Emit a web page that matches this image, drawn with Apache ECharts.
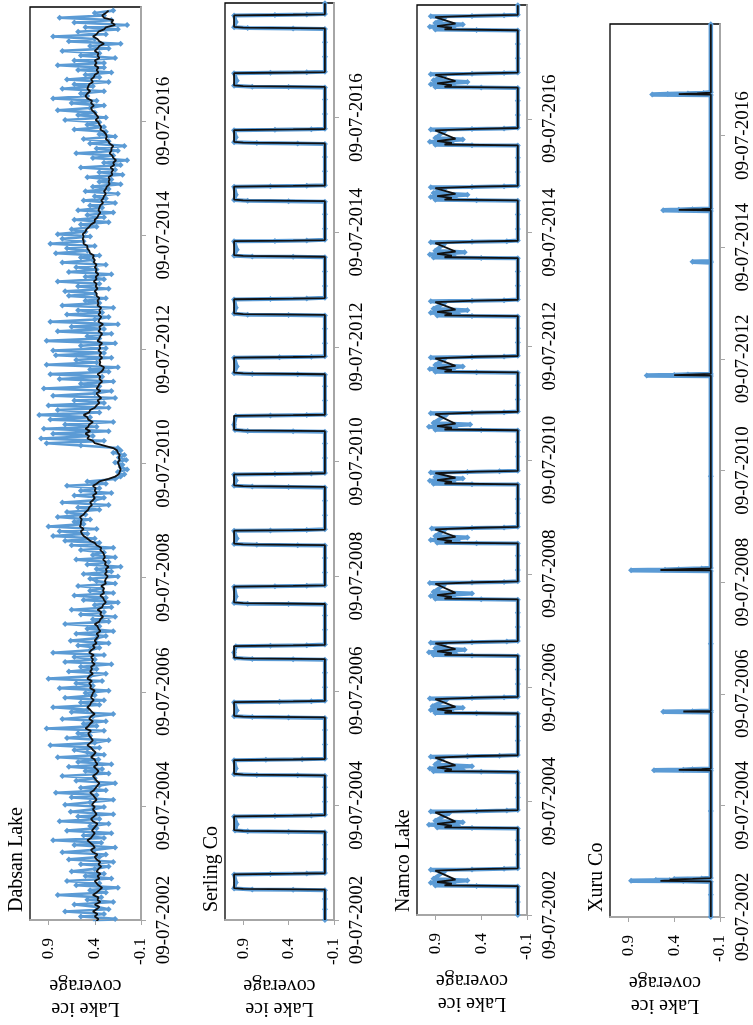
<!DOCTYPE html>
<html><head><meta charset="utf-8">
<script src="https://cdn.jsdelivr.net/npm/echarts@6/dist/echarts.min.js"></script>
<style>html,body{margin:0;padding:0;background:#fff}#c{width:753px;height:1025px}</style>
</head><body><div id="c"></div>
<script>
// ---------- tick labels / categories ----------
const tickLabels = ['09-07-2002','09-07-2004','09-07-2006','09-07-2008','09-07-2010','09-07-2012','09-07-2014','09-07-2016'];
const lakeNames = ['Dabsan Lake','Serling Co','Namco Lake','Xuru Co'];
const axisStart = '2002-07-09', axisEnd = '2018-07-09';

// ---------- Dabsan Lake: two readings per month (1st, 16th) from Jul 2002, one row per Jul-Jun year ----------
const dabsanFirstMonth = '2002-07';
const dabsanRaw = [
0.42,0.18,0.55,0.30,0.72,0.25,0.38,0.62,0.20,0.48,0.33,0.80,0.28,0.45,0.15,0.60,0.35,0.70,0.22,0.50,0.30,0.65,0.40,0.25,
0.55,0.20,0.68,0.35,0.28,0.75,0.40,0.18,0.62,0.33,0.85,0.30,0.52,0.22,0.70,0.38,0.45,0.25,0.78,0.35,0.58,0.20,0.66,0.42,
0.30,0.72,0.45,0.20,0.65,0.38,0.82,0.28,0.55,0.35,0.18,0.60,0.40,0.75,0.25,0.50,0.32,0.68,0.22,0.58,0.36,0.80,0.30,0.48,
0.62,0.35,0.88,0.40,0.25,0.70,0.45,0.58,0.30,0.92,0.38,0.52,0.28,0.75,0.42,0.20,0.65,0.48,0.85,0.35,0.55,0.30,0.72,0.40,
0.50,0.25,0.78,0.42,0.60,0.32,0.90,0.45,0.28,0.68,0.38,0.55,0.22,0.72,0.40,0.62,0.30,0.85,0.45,0.35,0.58,0.25,0.66,0.38,
0.28,0.60,0.20,0.48,0.35,0.72,0.25,0.42,0.18,0.55,0.30,0.65,0.22,0.40,0.15,0.52,0.28,0.62,0.20,0.45,0.32,0.58,0.18,0.38,
0.45,0.15,0.52,0.22,0.38,0.12,0.48,0.25,0.60,0.18,0.42,0.30,0.55,0.20,0.65,0.35,0.72,0.40,0.85,0.48,0.78,0.38,0.90,0.52,
0.62,0.45,0.80,0.50,0.70,0.35,0.58,0.25,0.75,0.40,0.30,0.62,0.22,0.55,0.35,0.70,0.28,0.48,0.18,0.12,0.08,0.15,0.05,0.12,
0.10,0.18,0.06,0.14,0.08,0.20,0.12,0.15,0.55,0.92,0.30,0.98,0.42,0.85,0.25,0.95,0.38,0.72,0.20,0.88,0.45,1.00,0.35,0.80,
0.25,0.90,0.30,0.62,0.18,0.85,0.40,0.22,0.95,0.35,0.55,0.20,0.78,0.32,0.88,0.25,0.45,0.15,0.92,0.38,0.60,0.22,0.82,0.30,
0.85,0.28,0.55,0.18,0.92,0.35,0.48,0.22,0.80,0.30,0.65,0.15,0.88,0.40,0.25,0.70,0.32,0.58,0.20,0.75,0.35,0.50,0.28,0.68,
0.40,0.72,0.25,0.58,0.35,0.80,0.30,0.50,0.22,0.68,0.38,0.60,0.28,0.75,0.42,0.55,0.35,0.82,0.48,0.70,0.40,0.88,0.52,0.75,
0.45,0.80,0.50,0.65,0.38,0.55,0.25,0.62,0.30,0.48,0.20,0.58,0.32,0.45,0.18,0.52,0.28,0.40,0.15,0.50,0.25,0.42,0.12,0.35,
0.22,0.48,0.10,0.35,0.18,0.55,0.12,0.30,0.05,0.42,0.20,0.60,0.15,0.38,0.08,0.45,0.25,0.52,0.18,0.35,0.28,0.62,0.30,0.48,
0.35,0.72,0.28,0.58,0.40,0.80,0.45,0.30,0.65,0.38,0.85,0.48,0.55,0.30,0.75,0.42,0.62,0.25,0.70,0.35,0.50,0.22,0.58,0.30,
0.80,0.30,0.62,0.18,0.55,0.35,0.75,0.25,0.45,0.12,0.68,0.40,0.85,0.28,0.58,0.15,0.50,0.05,0.62,0.22,0.78,0.30,0.40,0.20];
const dabsanSmooth = [
0.38,0.36,0.40,0.37,0.42,0.38,0.35,0.40,0.34,0.37,0.36,0.42,0.38,0.35,0.32,0.36,0.38,0.40,0.35,0.37,0.34,0.38,0.36,0.33,
0.36,0.34,0.38,0.40,0.37,0.42,0.44,0.40,0.42,0.45,0.48,0.44,0.42,0.40,0.43,0.41,0.39,0.37,0.42,0.44,0.41,0.38,0.40,0.42,
0.40,0.43,0.41,0.38,0.40,0.42,0.45,0.41,0.39,0.37,0.35,0.38,0.40,0.42,0.38,0.36,0.38,0.41,0.37,0.39,0.40,0.44,0.41,0.39,
0.42,0.44,0.48,0.45,0.42,0.44,0.46,0.47,0.44,0.50,0.47,0.45,0.42,0.46,0.44,0.40,0.43,0.45,0.48,0.45,0.44,0.41,0.44,0.43,
0.42,0.40,0.45,0.44,0.46,0.43,0.48,0.46,0.42,0.45,0.43,0.44,0.40,0.43,0.42,0.44,0.41,0.46,0.44,0.40,0.42,0.38,0.40,0.38,
0.36,0.38,0.34,0.36,0.37,0.40,0.35,0.34,0.31,0.34,0.33,0.37,0.32,0.31,0.28,0.30,0.31,0.34,0.30,0.31,0.30,0.33,0.28,0.29,
0.28,0.26,0.29,0.27,0.28,0.25,0.29,0.28,0.31,0.29,0.30,0.31,0.34,0.33,0.38,0.40,0.45,0.48,0.52,0.54,0.55,0.52,0.56,0.55,
0.55,0.54,0.56,0.52,0.50,0.47,0.46,0.43,0.45,0.42,0.40,0.42,0.38,0.40,0.39,0.42,0.38,0.35,0.25,0.18,0.14,0.13,0.12,0.13,
0.14,0.15,0.13,0.14,0.13,0.15,0.16,0.20,0.30,0.40,0.42,0.48,0.46,0.50,0.45,0.50,0.47,0.46,0.42,0.47,0.48,0.52,0.46,0.45,
0.40,0.38,0.35,0.37,0.33,0.36,0.38,0.34,0.38,0.36,0.35,0.32,0.35,0.34,0.37,0.33,0.31,0.30,0.35,0.34,0.35,0.32,0.35,0.33,
0.36,0.34,0.35,0.32,0.37,0.35,0.34,0.32,0.36,0.34,0.35,0.31,0.36,0.35,0.33,0.36,0.34,0.35,0.33,0.37,0.36,0.37,0.35,0.38,
0.38,0.40,0.37,0.39,0.38,0.41,0.38,0.39,0.36,0.39,0.38,0.40,0.38,0.41,0.40,0.42,0.41,0.45,0.46,0.48,0.48,0.52,0.52,0.53,
0.52,0.53,0.50,0.49,0.46,0.44,0.40,0.40,0.37,0.36,0.34,0.36,0.35,0.34,0.31,0.33,0.31,0.30,0.28,0.30,0.28,0.27,0.24,0.25,
0.24,0.25,0.21,0.22,0.20,0.23,0.19,0.20,0.17,0.20,0.21,0.24,0.22,0.22,0.20,0.24,0.25,0.28,0.27,0.28,0.30,0.34,0.33,0.35,
0.36,0.39,0.36,0.38,0.40,0.43,0.44,0.41,0.44,0.43,0.48,0.50,0.48,0.45,0.48,0.47,0.46,0.42,0.44,0.41,0.40,0.36,0.38,0.36,
0.40,0.38,0.40,0.35,0.37,0.36,0.40,0.37,0.35,0.30,0.35,0.37,0.42,0.38,0.36,0.30,0.28,0.18,0.22,0.20,0.30,0.32,0.28,0.25];

// ---------- Serling Co ----------
const serlingRaw = [
['2002-07-09',0],['2002-09-15',0],['2002-11-20',0],
['2003-01-15',0],['2003-01-18',0.35],['2003-01-20',0.8],['2003-01-25',1.0],['2003-03-05',0.98],['2003-04-25',1.0],['2003-04-28',0.6],['2003-05-01',0.2],['2003-05-05',0],['2003-08-01',0],['2003-11-01',0],
['2004-01-20',0],['2004-01-23',0.4],['2004-01-25',0.85],['2004-01-30',0.99],['2004-03-10',0.97],['2004-04-29',1.0],['2004-05-02',0.55],['2004-05-05',0.15],['2004-05-09',0],['2004-08-01',0],['2004-11-01',0],
['2005-01-13',0],['2005-01-16',0.3],['2005-01-18',0.75],['2005-01-23',1.0],['2005-03-01',0.98],['2005-04-22',1.0],['2005-04-25',0.65],['2005-04-28',0.25],['2005-05-02',0],['2005-08-01',0],['2005-11-01',0],
['2006-01-17',0],['2006-01-20',0.4],['2006-01-22',0.8],['2006-01-27',1.0],['2006-03-05',0.97],['2006-04-27',1.0],['2006-04-30',0.5],['2006-05-03',0.15],['2006-05-07',0],['2006-08-01',0],['2006-11-01',0],
['2007-01-23',0],['2007-01-26',0.35],['2007-01-28',0.8],['2007-02-02',0.99],['2007-03-10',1.0],['2007-04-19',0.98],['2007-04-22',0.6],['2007-04-25',0.2],['2007-04-29',0],['2007-08-01',0],['2007-11-01',0],
['2008-01-10',0],['2008-01-13',0.4],['2008-01-15',0.85],['2008-01-20',1.0],['2008-03-01',0.98],['2008-05-02',1.0],['2008-05-05',0.55],['2008-05-08',0.2],['2008-05-12',0],['2008-08-01',0],['2008-11-01',0],
['2009-01-19',0],['2009-01-22',0.3],['2009-01-24',0.75],['2009-01-29',1.0],['2009-03-05',0.97],['2009-04-23',1.0],['2009-04-26',0.6],['2009-04-29',0.2],['2009-05-03',0],['2009-08-01',0],['2009-11-01',0],
['2010-01-25',0],['2010-01-28',0.4],['2010-01-30',0.8],['2010-02-04',1.0],['2010-03-10',0.98],['2010-04-17',1.0],['2010-04-20',0.55],['2010-04-23',0.15],['2010-04-27',0],['2010-08-01',0],['2010-11-01',0],
['2011-01-15',0],['2011-01-18',0.35],['2011-01-20',0.85],['2011-01-25',0.99],['2011-03-01',1.0],['2011-04-25',0.98],['2011-04-28',0.6],['2011-05-01',0.2],['2011-05-05',0],['2011-08-01',0],['2011-11-01',0],
['2012-01-13',0],['2012-01-16',0.3],['2012-01-18',0.8],['2012-01-23',1.0],['2012-03-05',0.97],['2012-04-30',1.0],['2012-05-03',0.5],['2012-05-06',0.15],['2012-05-10',0],['2012-08-01',0],['2012-11-01',0],
['2013-01-25',0],['2013-01-28',0.4],['2013-01-30',0.85],['2013-02-04',1.0],['2013-03-15',0.98],['2013-05-07',1.0],['2013-05-10',0.6],['2013-05-13',0.2],['2013-05-17',0],['2013-08-01',0],['2013-11-01',0],
['2014-01-31',0],['2014-02-03',0.35],['2014-02-05',0.8],['2014-02-10',1.0],['2014-03-20',0.97],['2014-05-12',1.0],['2014-05-15',0.55],['2014-05-18',0.2],['2014-05-22',0],['2014-08-01',0],['2014-11-01',0],
['2015-01-20',0],['2015-01-23',0.4],['2015-01-25',0.85],['2015-01-30',1.0],['2015-03-05',0.98],['2015-04-25',1.0],['2015-04-28',0.6],['2015-05-01',0.2],['2015-05-05',0],['2015-08-01',0],['2015-11-01',0],
['2016-01-23',0],['2016-01-26',0.3],['2016-01-28',0.75],['2016-02-02',1.0],['2016-03-05',0.98],['2016-04-19',1.0],['2016-04-22',0.55],['2016-04-25',0.15],['2016-04-29',0],['2016-08-01',0],['2016-11-01',0],
['2017-01-17',0],['2017-01-20',0.4],['2017-01-22',0.8],['2017-01-27',1.0],['2017-03-01',0.97],['2017-04-17',1.0],['2017-04-20',0.6],['2017-04-23',0.2],['2017-04-27',0],['2017-08-01',0],['2017-11-01',0],
['2018-01-25',0],['2018-01-28',0.35],['2018-01-30',0.85],['2018-02-04',1.0],['2018-03-10',0.98],['2018-04-20',1.0],['2018-04-23',0.55],['2018-04-26',0.2],['2018-04-30',0],['2018-07-08',0]];
const serlingSmooth = [
['2002-07-09',0],
['2003-01-18',0],['2003-01-23',0.9],['2003-01-28',1.0],['2003-04-26',1.0],['2003-04-30',0.35],['2003-05-03',0],
['2004-01-23',0],['2004-01-28',0.9],['2004-02-02',1.0],['2004-04-30',1.0],['2004-05-04',0.35],['2004-05-07',0],
['2005-01-16',0],['2005-01-21',0.9],['2005-01-26',1.0],['2005-04-23',1.0],['2005-04-27',0.35],['2005-04-30',0],
['2006-01-20',0],['2006-01-25',0.9],['2006-01-30',1.0],['2006-04-28',1.0],['2006-05-02',0.35],['2006-05-05',0],
['2007-01-26',0],['2007-01-31',0.9],['2007-02-05',1.0],['2007-04-20',1.0],['2007-04-24',0.35],['2007-04-27',0],
['2008-01-13',0],['2008-01-18',0.9],['2008-01-23',1.0],['2008-05-03',1.0],['2008-05-07',0.35],['2008-05-10',0],
['2009-01-22',0],['2009-01-27',0.9],['2009-02-01',1.0],['2009-04-24',1.0],['2009-04-28',0.35],['2009-05-01',0],
['2010-01-28',0],['2010-02-02',0.9],['2010-02-07',1.0],['2010-04-18',1.0],['2010-04-22',0.35],['2010-04-25',0],
['2011-01-18',0],['2011-01-23',0.9],['2011-01-28',1.0],['2011-04-26',1.0],['2011-04-30',0.35],['2011-05-03',0],
['2012-01-16',0],['2012-01-21',0.9],['2012-01-26',1.0],['2012-05-01',1.0],['2012-05-05',0.35],['2012-05-08',0],
['2013-01-28',0],['2013-02-02',0.9],['2013-02-07',1.0],['2013-05-08',1.0],['2013-05-12',0.35],['2013-05-15',0],
['2014-02-03',0],['2014-02-08',0.9],['2014-02-13',1.0],['2014-05-13',1.0],['2014-05-17',0.35],['2014-05-20',0],
['2015-01-23',0],['2015-01-28',0.9],['2015-02-02',1.0],['2015-04-26',1.0],['2015-04-30',0.35],['2015-05-03',0],
['2016-01-26',0],['2016-01-31',0.9],['2016-02-05',1.0],['2016-04-20',1.0],['2016-04-24',0.35],['2016-04-27',0],
['2017-01-20',0],['2017-01-25',0.9],['2017-01-30',1.0],['2017-04-18',1.0],['2017-04-22',0.35],['2017-04-25',0],
['2018-01-28',0],['2018-02-02',0.9],['2018-02-07',1.0],['2018-04-21',1.0],['2018-04-25',0.35],['2018-04-28',0],['2018-07-08',0]];

// ---------- Namco Lake ----------
const namcoRaw = [
['2002-07-09',0],['2002-10-01',0],
['2003-01-08',0],['2003-01-11',0.45],['2003-01-14',0.9],['2003-01-24',0.7],['2003-02-01',0.95],['2003-02-16',0.55],['2003-02-26',0.92],['2003-04-15',0.8],['2003-04-25',0.95],['2003-04-28',0.5],['2003-05-02',0.15],['2003-05-06',0],['2003-08-01',0],['2003-11-01',0],
['2004-01-16',0],['2004-01-19',0.5],['2004-01-22',0.88],['2004-02-01',0.65],['2004-02-09',0.97],['2004-02-24',0.6],['2004-03-05',0.9],['2004-04-23',0.75],['2004-05-03',0.95],['2004-05-06',0.45],['2004-05-10',0.12],['2004-05-14',0],['2004-08-01',0],['2004-11-01',0],
['2005-01-11',0],['2005-01-14',0.4],['2005-01-17',0.92],['2005-01-27',0.6],['2005-02-04',0.96],['2005-02-19',0.5],['2005-03-01',0.9],['2005-04-10',0.82],['2005-04-20',0.95],['2005-04-23',0.55],['2005-04-27',0.2],['2005-05-01',0],['2005-08-01',0],['2005-11-01',0],
['2006-01-21',0],['2006-01-24',0.45],['2006-01-27',0.9],['2006-02-06',0.72],['2006-02-14',0.95],['2006-03-01',0.6],['2006-03-11',0.93],['2006-04-20',0.78],['2006-04-30',0.96],['2006-05-03',0.5],['2006-05-07',0.15],['2006-05-11',0],['2006-08-01',0],['2006-11-01',0],
['2007-01-28',0],['2007-01-31',0.5],['2007-02-03',0.92],['2007-02-13',0.68],['2007-02-21',0.97],['2007-03-08',0.58],['2007-03-18',0.9],['2007-04-13',0.8],['2007-04-23',0.95],['2007-04-26',0.5],['2007-04-30',0.12],['2007-05-04',0],['2007-08-01',0],['2007-11-01',0],
['2008-01-24',0],['2008-01-27',0.4],['2008-01-30',0.9],['2008-02-09',0.7],['2008-02-17',0.95],['2008-03-03',0.5],['2008-03-13',0.92],['2008-04-30',0.8],['2008-05-10',0.96],['2008-05-13',0.5],['2008-05-17',0.15],['2008-05-21',0],['2008-08-01',0],['2008-11-01',0],
['2009-01-18',0],['2009-01-21',0.45],['2009-01-24',0.88],['2009-02-03',0.65],['2009-02-11',0.95],['2009-02-26',0.55],['2009-03-08',0.9],['2009-04-15',0.8],['2009-04-25',0.94],['2009-04-28',0.5],['2009-05-02',0.15],['2009-05-06',0],['2009-08-01',0],['2009-11-01',0],
['2010-02-01',0],['2010-02-04',0.5],['2010-02-07',0.92],['2010-02-17',0.7],['2010-02-25',0.96],['2010-03-12',0.6],['2010-03-22',0.9],['2010-04-10',0.82],['2010-04-20',0.95],['2010-04-23',0.55],['2010-04-27',0.2],['2010-05-01',0],['2010-08-01',0],['2010-11-01',0],
['2011-01-14',0],['2011-01-17',0.4],['2011-01-20',0.9],['2011-01-30',0.68],['2011-02-07',0.97],['2011-02-22',0.52],['2011-03-04',0.92],['2011-04-25',0.78],['2011-05-05',0.95],['2011-05-08',0.5],['2011-05-12',0.15],['2011-05-16',0],['2011-08-01',0],['2011-11-01',0],
['2012-01-21',0],['2012-01-24',0.45],['2012-01-27',0.9],['2012-02-06',0.7],['2012-02-14',0.96],['2012-02-29',0.6],['2012-03-10',0.9],['2012-04-17',0.8],['2012-04-27',0.95],['2012-04-30',0.5],['2012-05-04',0.15],['2012-05-08',0],['2012-08-01',0],['2012-11-01',0],
['2013-01-16',0],['2013-01-19',0.5],['2013-01-22',0.88],['2013-02-01',0.65],['2013-02-09',0.95],['2013-02-24',0.55],['2013-03-06',0.92],['2013-04-13',0.8],['2013-04-23',0.95],['2013-04-26',0.5],['2013-04-30',0.15],['2013-05-04',0],['2013-08-01',0],['2013-11-01',0],
['2014-01-24',0],['2014-01-27',0.4],['2014-01-30',0.92],['2014-02-09',0.7],['2014-02-17',0.96],['2014-03-04',0.58],['2014-03-14',0.9],['2014-04-27',0.8],['2014-05-07',0.95],['2014-05-10',0.5],['2014-05-14',0.12],['2014-05-18',0],['2014-08-01',0],['2014-11-01',0],
['2015-01-29',0],['2015-02-01',0.45],['2015-02-04',0.9],['2015-02-14',0.68],['2015-02-22',0.95],['2015-03-09',0.55],['2015-03-19',0.92],['2015-04-15',0.8],['2015-04-25',0.95],['2015-04-28',0.5],['2015-05-02',0.15],['2015-05-06',0],['2015-08-01',0],['2015-11-01',0],
['2016-01-18',0],['2016-01-21',0.5],['2016-01-24',0.9],['2016-02-03',0.72],['2016-02-11',0.96],['2016-02-26',0.6],['2016-03-07',0.9],['2016-04-20',0.8],['2016-04-30',0.95],['2016-05-03',0.5],['2016-05-07',0.15],['2016-05-11',0],['2016-08-01',0],['2016-11-01',0],
['2017-01-22',0],['2017-01-25',0.4],['2017-01-28',0.9],['2017-02-07',0.7],['2017-02-15',0.95],['2017-03-02',0.55],['2017-03-12',0.92],['2017-04-11',0.8],['2017-04-21',0.95],['2017-04-24',0.5],['2017-04-28',0.15],['2017-05-02',0],['2017-08-01',0],['2017-11-01',0],
['2018-01-26',0],['2018-01-29',0.45],['2018-02-01',0.9],['2018-02-11',0.7],['2018-02-19',0.96],['2018-03-06',0.6],['2018-03-16',0.9],['2018-04-17',0.8],['2018-04-27',0.95],['2018-04-30',0.5],['2018-05-04',0.15],['2018-05-08',0],['2018-07-08',0]];
const namcoSmooth = [
['2002-07-09',0],
['2003-01-10',0],['2003-01-15',0.8],['2003-01-26',0.72],['2003-02-06',0.88],['2003-02-21',0.68],['2003-04-20',0.9],['2003-04-30',0.45],['2003-05-05',0],
['2004-01-18',0],['2004-01-23',0.8],['2004-02-03',0.72],['2004-02-14',0.88],['2004-02-29',0.68],['2004-04-28',0.9],['2004-05-08',0.45],['2004-05-13',0],
['2005-01-13',0],['2005-01-18',0.8],['2005-01-29',0.72],['2005-02-09',0.88],['2005-02-24',0.68],['2005-04-15',0.9],['2005-04-25',0.45],['2005-04-30',0],
['2006-01-23',0],['2006-01-28',0.8],['2006-02-08',0.72],['2006-02-19',0.88],['2006-03-06',0.68],['2006-04-25',0.9],['2006-05-05',0.45],['2006-05-10',0],
['2007-01-30',0],['2007-02-04',0.8],['2007-02-15',0.72],['2007-02-26',0.88],['2007-03-13',0.68],['2007-04-18',0.9],['2007-04-28',0.45],['2007-05-03',0],
['2008-01-26',0],['2008-01-31',0.8],['2008-02-11',0.72],['2008-02-22',0.88],['2008-03-08',0.68],['2008-05-05',0.9],['2008-05-15',0.45],['2008-05-20',0],
['2009-01-20',0],['2009-01-25',0.8],['2009-02-05',0.72],['2009-02-16',0.88],['2009-03-03',0.68],['2009-04-20',0.9],['2009-04-30',0.45],['2009-05-05',0],
['2010-02-03',0],['2010-02-08',0.8],['2010-02-19',0.72],['2010-03-02',0.88],['2010-03-17',0.68],['2010-04-15',0.9],['2010-04-25',0.45],['2010-04-30',0],
['2011-01-16',0],['2011-01-21',0.8],['2011-02-01',0.72],['2011-02-12',0.88],['2011-02-27',0.68],['2011-04-30',0.9],['2011-05-10',0.45],['2011-05-15',0],
['2012-01-23',0],['2012-01-28',0.8],['2012-02-08',0.72],['2012-02-19',0.88],['2012-03-05',0.68],['2012-04-22',0.9],['2012-05-02',0.45],['2012-05-07',0],
['2013-01-18',0],['2013-01-23',0.8],['2013-02-03',0.72],['2013-02-14',0.88],['2013-03-01',0.68],['2013-04-18',0.9],['2013-04-28',0.45],['2013-05-03',0],
['2014-01-26',0],['2014-01-31',0.8],['2014-02-11',0.72],['2014-02-22',0.88],['2014-03-09',0.68],['2014-05-02',0.9],['2014-05-12',0.45],['2014-05-17',0],
['2015-01-31',0],['2015-02-05',0.8],['2015-02-16',0.72],['2015-02-27',0.88],['2015-03-14',0.68],['2015-04-20',0.9],['2015-04-30',0.45],['2015-05-05',0],
['2016-01-20',0],['2016-01-25',0.8],['2016-02-05',0.72],['2016-02-16',0.88],['2016-03-02',0.68],['2016-04-25',0.9],['2016-05-05',0.45],['2016-05-10',0],
['2017-01-24',0],['2017-01-29',0.8],['2017-02-09',0.72],['2017-02-20',0.88],['2017-03-07',0.68],['2017-04-16',0.9],['2017-04-26',0.45],['2017-05-01',0],
['2018-01-28',0],['2018-02-02',0.8],['2018-02-13',0.72],['2018-02-24',0.88],['2018-03-11',0.68],['2018-04-22',0.9],['2018-05-02',0.45],['2018-05-07',0],['2018-07-08',0]];

// ---------- Xuru Co ----------
const xuruRaw = [
['2002-07-09',0],['2002-12-01',0],
['2003-02-25',0],['2003-03-01',0.3],['2003-03-04',0.87],['2003-03-06',0.45],['2003-03-08',0.6],['2003-03-10',0.25],['2003-03-14',0.4],['2003-03-18',0.1],['2003-03-22',0],
['2004-06-01',0],['2005-02-20',0],['2005-02-24',0.62],['2005-02-27',0.3],['2005-03-02',0.2],['2005-03-06',0],
['2006-03-10',0],['2006-03-13',0.52],['2006-03-16',0.2],['2006-03-20',0],
['2007-06-01',0],['2008-09-20',0],['2008-09-24',0.87],['2008-09-27',0.5],['2008-10-01',0.35],['2008-10-05',0.1],['2008-10-09',0],
['2010-06-01',0],['2012-03-18',0],['2012-03-22',0.7],['2012-03-25',0.4],['2012-03-28',0.25],['2012-04-01',0],
['2014-04-01',0],['2014-04-05',0.2],['2014-04-09',0],
['2015-03-04',0],['2015-03-08',0.52],['2015-03-11',0.35],['2015-03-14',0.2],['2015-03-18',0],
['2017-03-31',0],['2017-04-04',0.64],['2017-04-07',0.47],['2017-04-10',0.25],['2017-04-14',0.08],['2017-04-18',0],['2018-07-08',0]];
const xuruSmooth = [
['2002-07-09',0],['2003-02-27',0],['2003-03-03',0.55],['2003-03-07',0.4],['2003-03-11',0.45],['2003-03-16',0.2],['2003-03-21',0],
['2005-02-23',0],['2005-02-26',0.35],['2005-03-03',0.1],['2005-03-06',0],
['2006-03-12',0],['2006-03-15',0.3],['2006-03-19',0],
['2008-09-23',0],['2008-09-26',0.55],['2008-10-01',0.3],['2008-10-07',0],
['2012-03-21',0],['2012-03-24',0.4],['2012-03-29',0.15],['2012-04-01',0],
['2015-03-07',0],['2015-03-10',0.35],['2015-03-15',0.1],['2015-03-18',0],
['2017-04-03',0],['2017-04-06',0.35],['2017-04-11',0.15],['2017-04-16',0],['2018-07-08',0]];

// ---------- build ----------
const FONT = '"Liberation Serif","Times New Roman",serif';
function ts(s){const p=s.split('-');return Date.UTC(+p[0],+p[1]-1,+(p[2]||15));}
const T0 = ts(axisStart), T1 = ts(axisEnd), STEP = (T1 - T0) / 8;
const dm = dabsanFirstMonth.split('-');
const dabsanDate = i => Date.UTC(+dm[0], +dm[1]-1+Math.floor(i/2), i%2 ? 16 : 1);
const lakes = [
  {raw: dabsanRaw.map((v,i)=>[v, dabsanDate(i)]), smooth: dabsanSmooth.map((v,i)=>[v, dabsanDate(i)]), bw:2.6, ss:6},
  {raw: serlingRaw.map(d=>[d[1], ts(d[0])]), smooth: serlingSmooth.map(d=>[d[1], ts(d[0])]), bw:4, ss:6},
  {raw: namcoRaw.map(d=>[d[1], ts(d[0])]), smooth: namcoSmooth.map(d=>[d[1], ts(d[0])]), bw:4, ss:6},
  {raw: xuruRaw.map(d=>[d[1], ts(d[0])]), smooth: xuruSmooth.map(d=>[d[1], ts(d[0])]), bw:4.5, ss:6}
];
const panels = [
  {left:30, right:612, top:7, bottom:103},
  {left:225, right:419, top:3, bottom:103},
  {left:417, right:226, top:5, bottom:110},
  {left:610, right:31, top:24, bottom:108}
];
const option = {
  animation:false,
  backgroundColor:'#fff',
  grid: panels.map(p=>({left:p.left,right:p.right,top:p.top,bottom:p.bottom,show:true,borderColor:'#000',borderWidth:1.3,backgroundColor:'transparent'})),
  xAxis: panels.map((p,i)=>({
    gridIndex:i, type:'value', inverse:true, min:-0.1, max:1.1, interval:0.5, position:'bottom',
    axisLine:{show:true,onZero:false,lineStyle:{color:'#A6A6A6',width:2}},
    axisTick:{show:true,length:5,lineStyle:{color:'#A6A6A6',width:1}},
    splitLine:{show:false},
    axisLabel:{rotate:90, margin:18, fontFamily:FONT, fontSize:17, color:'#000', showMaxLabel:false,
      formatter:v=> v>1 ? '' : String(Math.round(v*10)/10)},
    name:'Lake ice\ncoverage', nameLocation:'middle', nameRotate:180, nameGap:54,
    nameTextStyle:{fontFamily:FONT, fontSize:20, color:'#000', lineHeight:23}
  })),
  yAxis: panels.map((p,i)=>({
    gridIndex:i, type:'value', min:T0, max:T1, interval:STEP, position:'right',
    axisLine:{show:true,onZero:false,lineStyle:{color:'#A6A6A6',width:2}},
    axisTick:{show:true,length:5,lineStyle:{color:'#A6A6A6',width:1}},
    splitLine:{show:false},
    axisLabel:{rotate:90, margin:14, fontFamily:FONT, fontSize:19, color:'#000', showMaxLabel:false,
      formatter:v=> tickLabels[Math.round((v-T0)/STEP)] || ''}
  })),
  graphic: lakeNames.map((n,i)=>({type:'text', x: panels[i].left-13, y: 912, rotation: Math.PI/2,
    style:{text:n, font:'20px '+FONT, fill:'#000', textAlign:'left', textVerticalAlign:'middle', align:'left', verticalAlign:'middle'}})),
  series: []
};
lakes.forEach((L,i)=>{
  option.series.push({type:'line', xAxisIndex:i, yAxisIndex:i, data:L.raw, symbol:'diamond', symbolSize:L.ss,
    lineStyle:{color:'#5B9BD5',width:L.bw}, itemStyle:{color:'#5B9BD5'}, z:2});
  option.series.push({type:'line', xAxisIndex:i, yAxisIndex:i, data:L.smooth, symbol:'none',
    lineStyle:{color:'#111',width:1.8}, z:3});
});
echarts.init(document.getElementById('c')).setOption(option);
</script></body></html>
